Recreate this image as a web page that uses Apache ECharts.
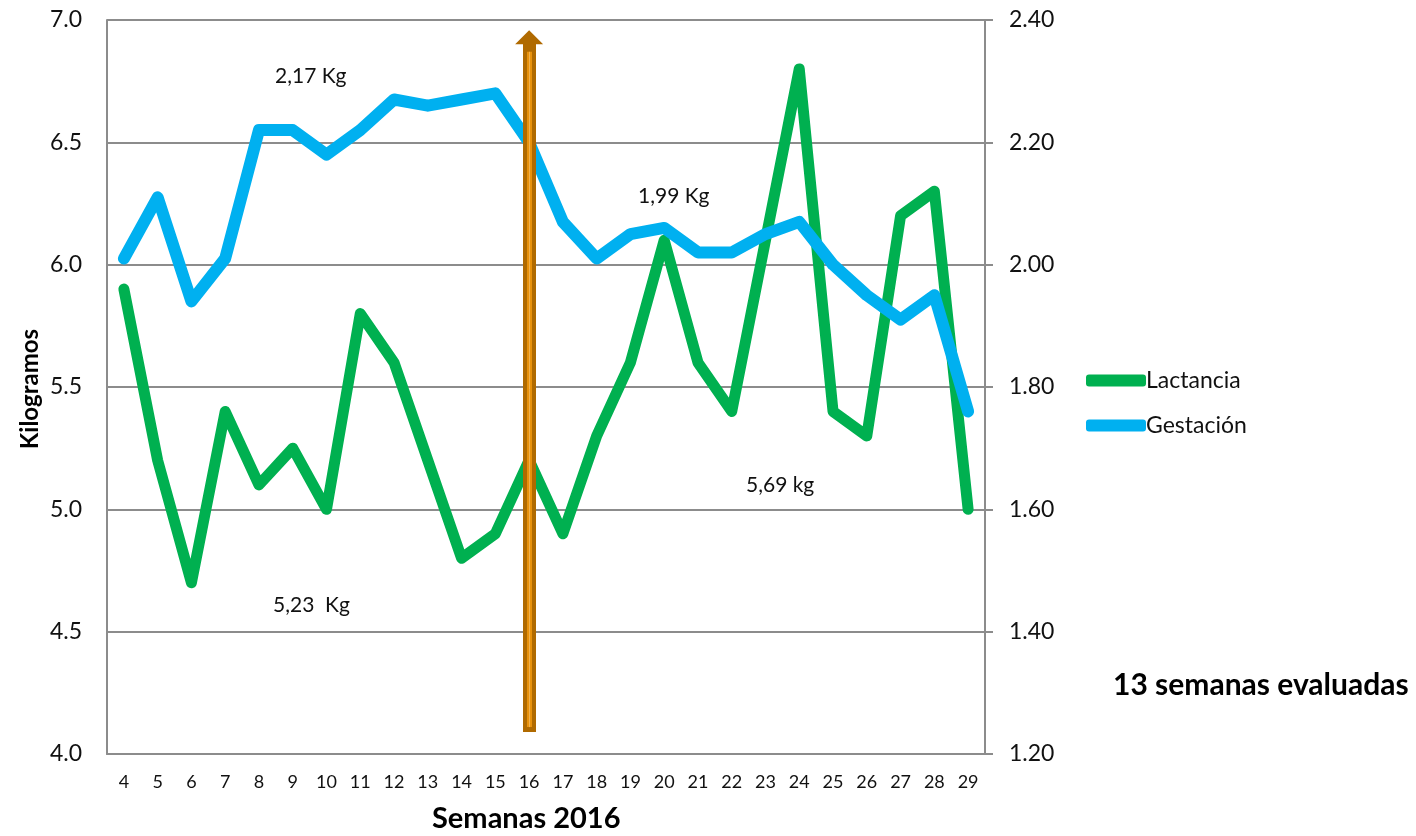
<!DOCTYPE html>
<html>
<head>
<meta charset="utf-8">
<script src="https://cdn.jsdelivr.net/npm/echarts@6/dist/echarts.min.js"></script>
<style>
  html, body { margin: 0; padding: 0; background: #fff; }
  #chart { width: 1416px; height: 836px; }
</style>
</head>
<body>
<div id="chart"></div>
<script>
// semanas del 2016
let weeks = ["4", "5", "6", "7", "8", "9", "10", "11", "12", "13", "14", "15", "16",
  "17", "18", "19", "20", "21", "22", "23", "24", "25", "26", "27", "28", "29"];

// kg, eje izquierdo
let lactancia = [5.9, 5.2, 4.7, 5.4, 5.1, 5.25, 5.0, 5.8, 5.6, 5.2, 4.8, 4.9, 5.2,
  4.9, 5.3, 5.6, 6.1, 5.6, 5.4, 6.1, 6.8, 5.4, 5.3, 6.2, 6.3, 5.0];

// kg, eje derecho
let gestacion = [2.01, 2.11, 1.94, 2.01, 2.22, 2.22, 2.18, 2.22, 2.27, 2.26, 2.27, 2.28, 2.2,
  2.07, 2.01, 2.05, 2.06, 2.02, 2.02, 2.05, 2.07, 2.0, 1.95, 1.91, 1.95, 1.76];

// flecha en la semana 16 (valores del eje izquierdo)
let arrowWeek = "16";
let arrowFrom = 4.09;
let arrowTo = 6.93;

let font = "Lato";
let gray = "#8c8c8c";

let option = {
  animation: false,
  backgroundColor: "#fff",
  textStyle: { fontFamily: font },
  grid: { left: 107, right: 431, top: 20, bottom: 82 },
  legend: {
    data: ["Lactancia", "Gestación"],
    orient: "vertical",
    left: 1081,
    top: 364,
    icon: "roundRect",
    itemWidth: 60,
    itemHeight: 12,
    itemGap: 22,
    textStyle: { fontSize: 23, color: "#111", fontFamily: font, padding: [0, 0, 0, -5] }
  },
  xAxis: {
    type: "category",
    data: weeks,
    boundaryGap: true,
    axisLine: { lineStyle: { color: gray, width: 2 } },
    axisTick: { show: false },
    axisLabel: { fontSize: 18, color: "#111", margin: 19 }
  },
  yAxis: [
    {
      type: "value",
      min: 4,
      max: 7,
      interval: 0.5,
      axisLine: { show: true, lineStyle: { color: gray, width: 2 } },
      axisTick: { show: false },
      axisLabel: {
        fontSize: 23, color: "#111", margin: 25,
        formatter: v => v.toFixed(1)
      },
      splitLine: { lineStyle: { color: gray, width: 2 } }
    },
    {
      type: "value",
      min: 1.2,
      max: 2.4,
      interval: 0.2,
      axisLine: { show: true, lineStyle: { color: gray, width: 2 } },
      axisTick: { show: true, length: 8, lineStyle: { color: gray, width: 2 } },
      axisLabel: {
        fontSize: 23, color: "#111", margin: 24,
        formatter: v => v.toFixed(2)
      },
      splitLine: { show: false }
    }
  ],
  series: [
    {
      name: "Lactancia",
      type: "line",
      yAxisIndex: 0,
      data: lactancia,
      showSymbol: false,
      symbol: "none",
      color: "#00B050",
      lineStyle: { width: 11, color: "#00B050", cap: "round", join: "round" },
      z: 2
    },
    {
      name: "Gestación",
      type: "line",
      yAxisIndex: 1,
      data: gestacion,
      showSymbol: false,
      symbol: "none",
      color: "#00B0F0",
      lineStyle: { width: 12, color: "#00B0F0", cap: "round", join: "round" },
      z: 3
    },
    {
      name: "flecha",
      type: "line",
      yAxisIndex: 0,
      data: [],
      z: 5,
      markLine: {
        silent: true,
        animation: false,
        label: { show: false },
        data: [
          [
            { coord: [arrowWeek, arrowFrom], symbol: "none",
              lineStyle: { color: "#B06A00", width: 13, type: "solid" } },
            { coord: [arrowWeek, arrowTo], symbol: "triangle", symbolSize: [28, 14] }
          ],
          [
            { coord: [arrowWeek, arrowFrom + 0.02], symbol: "none",
              lineStyle: { color: "#E8920C", width: 5, type: "solid" } },
            { coord: [arrowWeek, arrowTo - 0.06], symbol: "none" }
          ],
          [
            { coord: [arrowWeek, arrowFrom + 0.02], symbol: "none",
              lineStyle: { color: "#F2B24E", width: 1, type: "solid" } },
            { coord: [arrowWeek, arrowTo - 0.06], symbol: "none" }
          ]
        ]
      }
    }
  ],
  graphic: [
    { type: "text", left: 275, top: 66, style: { text: "2,17 Kg", fontSize: 21, fill: "#111", fontFamily: font } },
    { type: "text", left: 638, top: 186, style: { text: "1,99 Kg", fontSize: 21, fill: "#111", fontFamily: font } },
    { type: "text", left: 746, top: 475, style: { text: "5,69 kg", fontSize: 21, fill: "#111", fontFamily: font } },
    { type: "text", left: 273, top: 595, style: { text: "5,23  Kg", fontSize: 21, fill: "#111", fontFamily: font } },
    { type: "text", left: 1113, top: 670, style: { text: "13 semanas evaluadas", fontSize: 30, fontWeight: "bold", fill: "#000", fontFamily: font } },
    { type: "text", left: 432, top: 804, style: { text: "Semanas 2016", fontSize: 29, fontWeight: "bold", fill: "#000", fontFamily: font } },
    {
      type: "text", x: 30, y: 389, rotation: Math.PI / 2,
      style: { text: "Kilogramos", fontSize: 24, fontWeight: "bold", fill: "#000", fontFamily: font, align: "center", verticalAlign: "middle" }
    }
  ]
};

let chart = echarts.init(document.getElementById("chart"));
chart.setOption(option);
</script>
</body>
</html>
